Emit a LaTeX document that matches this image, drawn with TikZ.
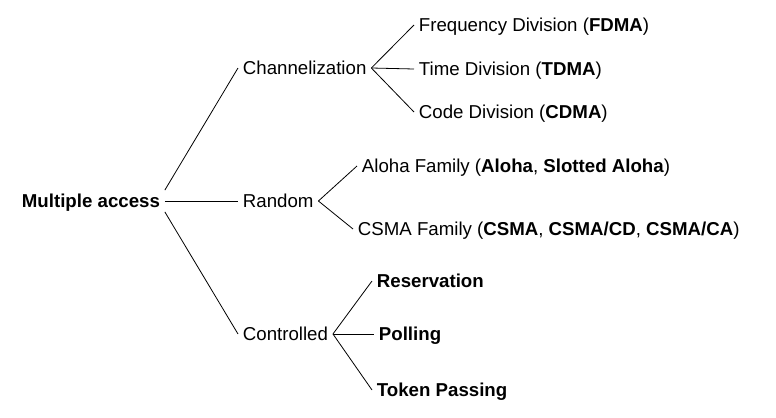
\documentclass[tikz,border=0pt]{standalone}
\usepackage{fontspec}
\setmainfont{Liberation Sans}
\usetikzlibrary{positioning}
\tikzset{
  item/.style={
    anchor=west, inner xsep=3.5pt, inner ysep=3pt,
    font=\fontsize{14}{16.8}\selectfont, text height=10pt, text depth=0pt,
  },
  rootbox/.style={item, font=\fontsize{14}{16.8}\selectfont\bfseries},
  boldleaf/.style={item, font=\fontsize{14}{16.8}\selectfont\bfseries},
  link/.style={draw=black, line width=0.6pt},
}
\begin{document}
\begin{tikzpicture}[x=0.75pt, y=-0.75pt]
  \useasboundingbox (0,0) rectangle (776,418);

  % Root
  \node[rootbox] (root) at (17, 201) {Multiple access};

  % Second level
  \node[item] (chan) at (238, 68) {Channelization};
  \node[item] (rand) at (238, 201) {Random};
  \node[item] (ctrl) at (238, 334) {Controlled};

  \draw[link] (root.north east) -- (chan.west);
  \draw[link] (root.east) -- (rand.west);
  \draw[link] (root.south east) -- (ctrl.west);

  % Channelization
  \node[item] (fdma) at (414, 25) {Frequency Division (\textbf{FDMA})};
  \node[item] (tdma) at (414, 69) {Time Division (\textbf{TDMA})};
  \node[item] (cdma) at (414, 112) {Code Division (\textbf{CDMA})};
  \draw[link] (chan.east) -- (fdma.west);
  \draw[link] (chan.east) -- (tdma.west);
  \draw[link] (chan.east) -- (cdma.west);

  % Random
  \node[item] (aloha) at (357, 166) {Aloha Family (\textbf{Aloha}, \textbf{Slotted Aloha})};
  \node[item] (csma) at (353, 229) {CSMA Family (\textbf{CSMA}, \textbf{CSMA/CD}, \textbf{CSMA/CA})};
  \draw[link] (rand.east) -- (aloha.west);
  \draw[link] (rand.east) -- (csma.west);

  % Controlled
  \node[boldleaf] (resv) at (372, 281) {Reservation};
  \node[boldleaf] (poll) at (374, 334) {Polling};
  \node[boldleaf] (token) at (372, 390) {Token Passing};
  \draw[link] (ctrl.east) -- (resv.west);
  \draw[link] (ctrl.east) -- (poll.west);
  \draw[link] (ctrl.east) -- (token.west);

\end{tikzpicture}
\end{document}
